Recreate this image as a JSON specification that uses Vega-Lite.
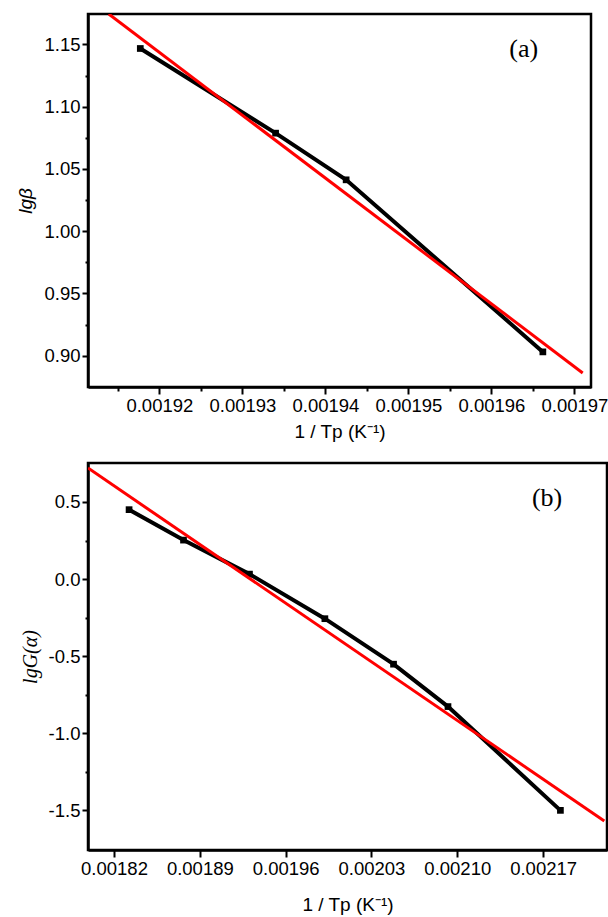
{
  "$schema": "https://vega.github.io/schema/vega-lite/v6.json",
  "padding": {"top": 12, "left": 15, "right": 0, "bottom": 0},
  "spacing": 18,
  "align": "none",
  "background": "white",
  "config": {
    "view": {"stroke": "black", "strokeWidth": 2.5},
    "axis": {
      "grid": false,
      "domainColor": "black",
      "domainWidth": 2.5,
      "tickColor": "black",
      "tickWidth": 2,
      "labelFont": "Liberation Sans",
      "labelFontSize": 18.5,
      "labelColor": "black",
      "labelPadding": 2,
      "titleFont": "Liberation Sans",
      "titleFontSize": 19,
      "titleFontWeight": "normal",
      "titleColor": "black"
    }
  },
  "datasets": {
    "a": [
      {"x": 0.0019177, "y": 1.1467},
      {"x": 0.001934, "y": 1.0787},
      {"x": 0.0019425, "y": 1.0412},
      {"x": 0.0019662, "y": 0.903}
    ],
    "afit": [
      {"x": 0.0019139, "y": 1.1744},
      {"x": 0.001971, "y": 0.8861}
    ],
    "alabel": [{"x": 0.0019639, "y": 1.1462, "label": "(a)"}],
    "b": [
      {"x": 0.0018323, "y": 0.45},
      {"x": 0.0018767, "y": 0.2526},
      {"x": 0.0019305, "y": 0.032},
      {"x": 0.001992, "y": -0.257},
      {"x": 0.002048, "y": -0.552},
      {"x": 0.0020924, "y": -0.827},
      {"x": 0.0021841, "y": -1.5}
    ],
    "bfit": [
      {"x": 0.0017988, "y": 0.72},
      {"x": 0.0022199, "y": -1.569}
    ],
    "blabel": [{"x": 0.0021732, "y": 0.526, "label": "(b)"}]
  },
  "vconcat": [
    {
      "width": 503,
      "height": 373,
      "encoding": {
        "x": {
          "field": "x", "type": "quantitative",
          "scale": {"domain": [0.0019114, 0.001972], "nice": false, "zero": false},
          "axis": {
            "values": [0.001915, 0.00192, 0.001925, 0.00193, 0.001935, 0.00194, 0.001945, 0.00195, 0.001955, 0.00196, 0.001965, 0.00197],
            "format": ".5f",
            "labelExpr": "round(datum.value*1000000) % 10 == 0 ? datum.label : ''",
            "tickSize": {"condition": {"test": "round(datum.value*1000000) % 10 == 0", "value": 7}, "value": 4},
            "title": "1 / Tp (K⁻¹)",
            "titlePadding": 8
          }
        },
        "y": {
          "field": "y", "type": "quantitative",
          "scale": {"domain": [0.8748, 1.1744], "nice": false, "zero": false},
          "axis": {
            "values": [0.9, 0.925, 0.95, 0.975, 1.0, 1.025, 1.05, 1.075, 1.1, 1.125, 1.15],
            "format": ".2f",
            "labelExpr": "round(datum.value*1000) % 50 == 0 ? datum.label : ''",
            "tickSize": {"condition": {"test": "round(datum.value*1000) % 50 == 0", "value": 6}, "value": 3},
            "title": "lgβ",
            "titleFontStyle": "italic",
            "titlePadding": 8
          }
        }
      },
      "layer": [
        {"data": {"name": "a"}, "mark": {"type": "line", "color": "black", "strokeWidth": 4}},
        {"data": {"name": "a"}, "mark": {"type": "point", "shape": "square", "filled": true, "color": "black", "size": 45, "opacity": 1}},
        {"data": {"name": "afit"}, "mark": {"type": "line", "color": "#ff0000", "strokeWidth": 3, "clip": true}},
        {"data": {"name": "alabel"}, "mark": {"type": "text", "font": "Liberation Serif", "fontSize": 26, "color": "black"}, "encoding": {"text": {"field": "label"}}}
      ]
    },
    {
      "width": 519,
      "height": 387,
      "encoding": {
        "x": {
          "field": "x", "type": "quantitative",
          "scale": {"domain": [0.0017988, 0.0022221], "nice": false, "zero": false},
          "axis": {
            "values": [0.00182, 0.00189, 0.00196, 0.00203, 0.0021, 0.00217],
            "format": ".5f",
            "tickSize": 7,
            "title": "1 / Tp (K⁻¹)",
            "titlePadding": 18
          }
        },
        "y": {
          "field": "y", "type": "quantitative",
          "scale": {"domain": [-1.757, 0.7526], "nice": false, "zero": false},
          "axis": {
            "values": [-1.5, -1.25, -1.0, -0.75, -0.5, -0.25, 0, 0.25, 0.5],
            "format": ".1f",
            "labelExpr": "round(datum.value*100) % 50 == 0 ? replace(datum.label, '−', '-') : ''",
            "tickSize": {"condition": {"test": "round(datum.value*100) % 50 == 0", "value": 6}, "value": 3},
            "title": "lgG(α)",
            "titleFont": "Liberation Serif",
            "titleFontSize": 20,
            "titleFontStyle": "italic",
            "titlePadding": 8
          }
        }
      },
      "layer": [
        {"data": {"name": "b"}, "mark": {"type": "line", "color": "black", "strokeWidth": 4}},
        {"data": {"name": "b"}, "mark": {"type": "point", "shape": "square", "filled": true, "color": "black", "size": 45, "opacity": 1}},
        {"data": {"name": "bfit"}, "mark": {"type": "line", "color": "#ff0000", "strokeWidth": 3, "clip": true}},
        {"data": {"name": "blabel"}, "mark": {"type": "text", "font": "Liberation Serif", "fontSize": 26, "color": "black"}, "encoding": {"text": {"field": "label"}}}
      ]
    }
  ]
}
